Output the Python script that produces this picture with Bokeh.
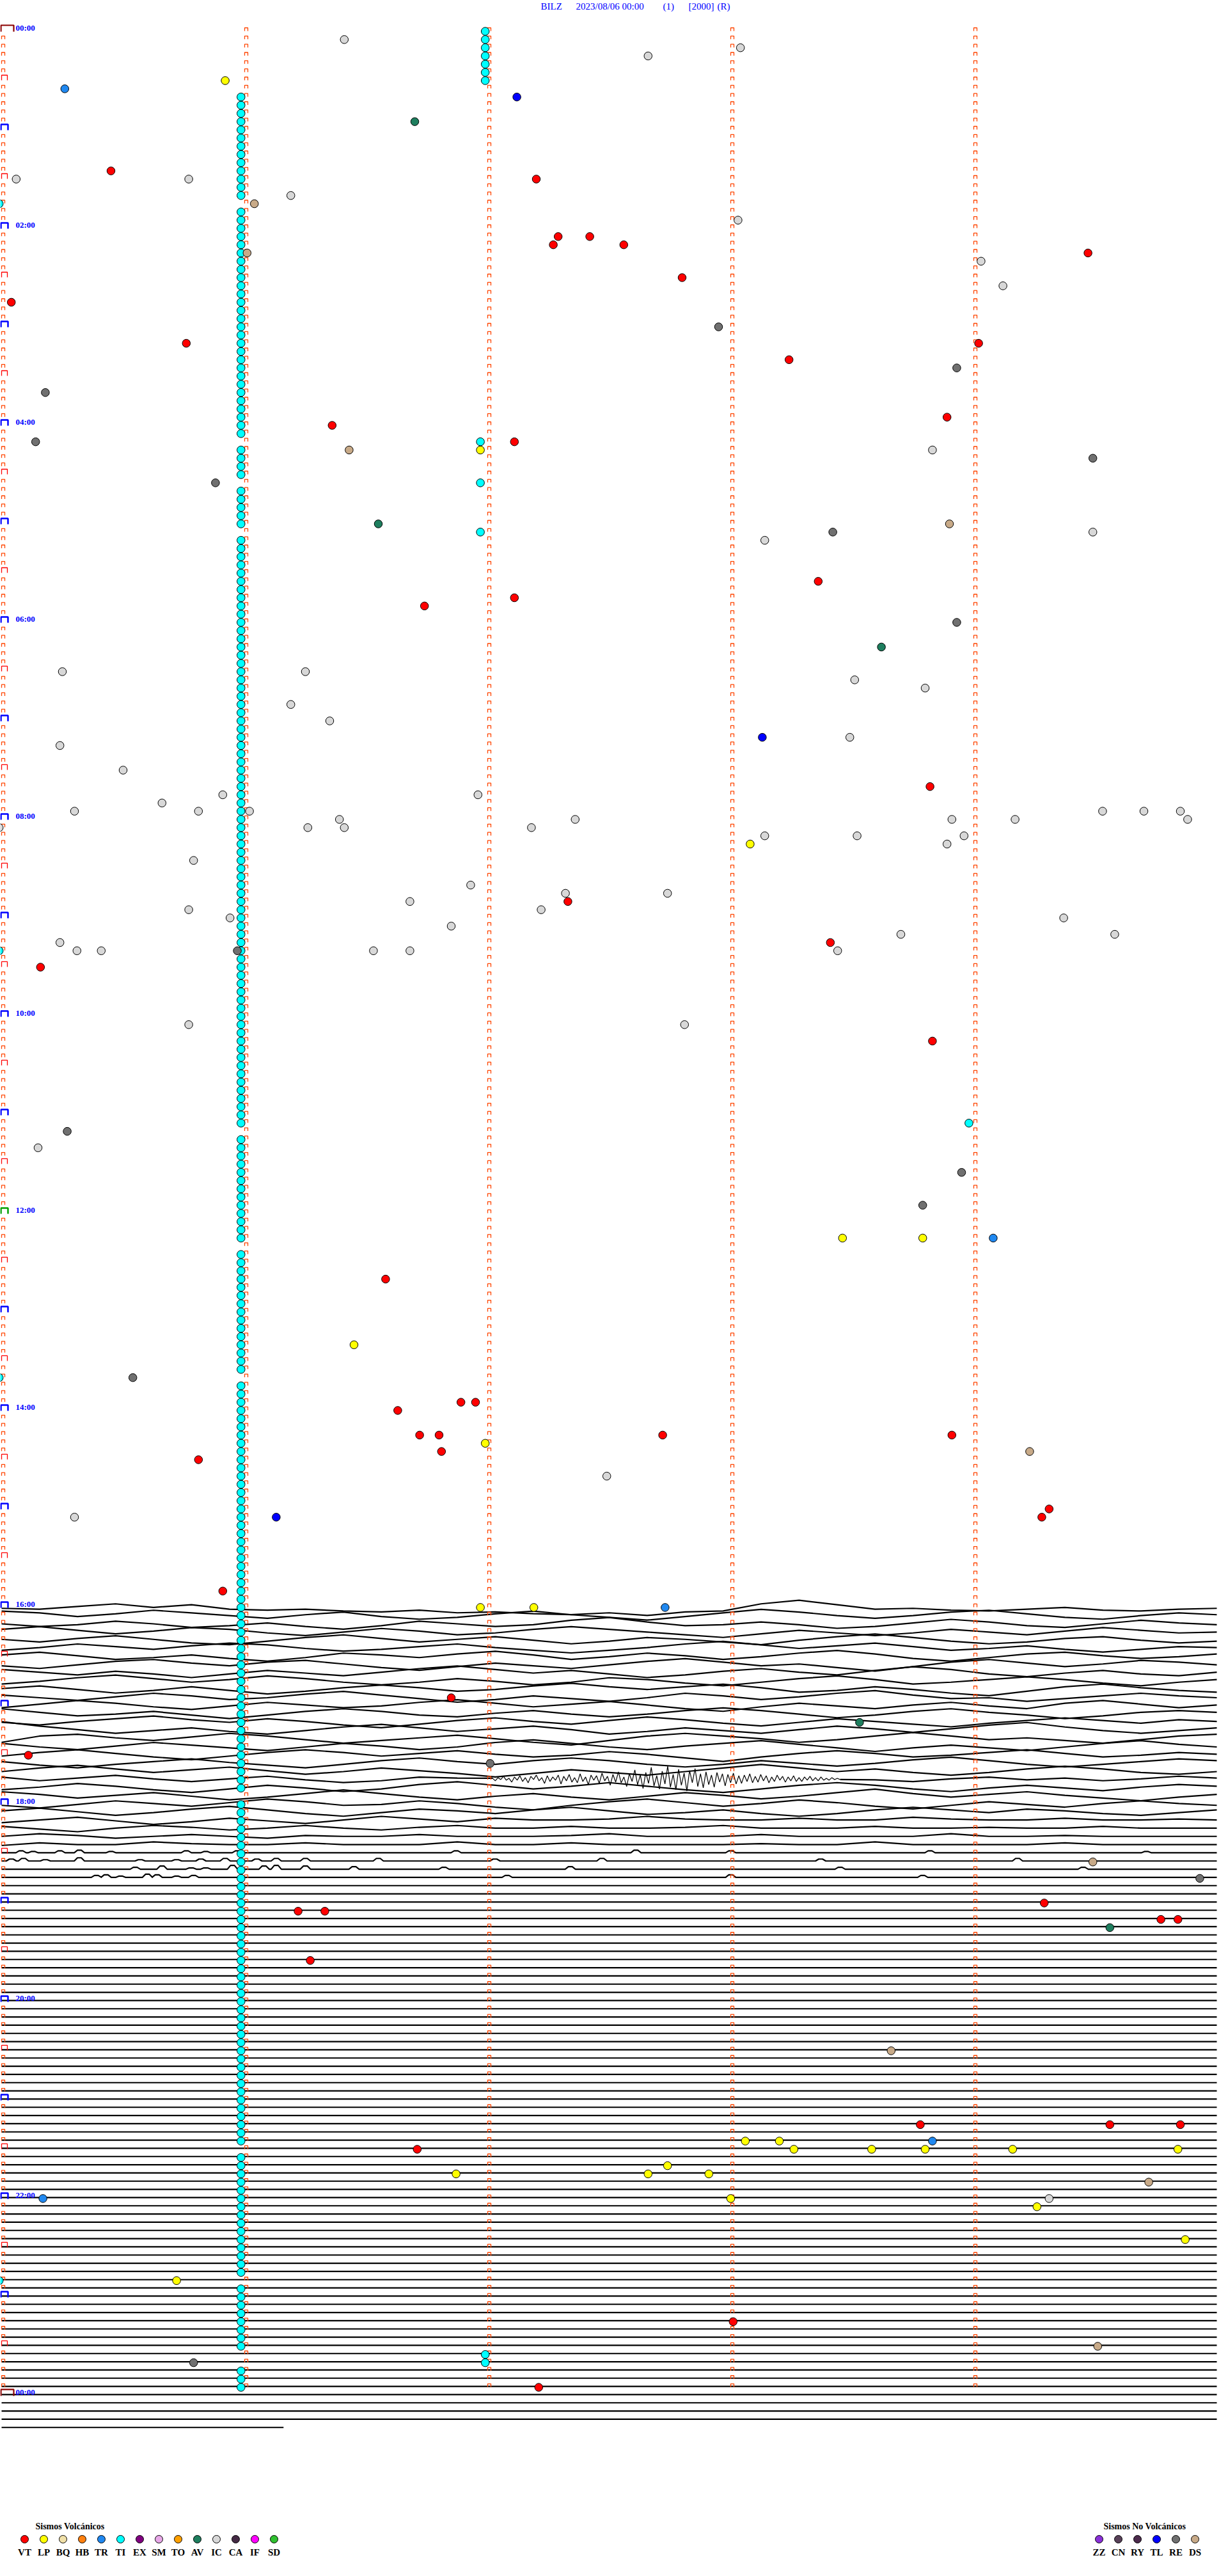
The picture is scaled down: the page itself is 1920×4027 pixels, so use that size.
import numpy as np
from bokeh.plotting import figure
from bokeh.models import Range1d, ColumnDataSource
from bokeh.embed import file_html
from bokeh.resources import INLINE
from bokeh.core.properties import value

# ------------------------------------------------------------------ data
title_parts = ["BILZ", "2023/08/06 00:00", "(1)", "[2000]", "(R)"]

hour_label_text = ["00:00", "02:00", "04:00", "06:00", "08:00", "10:00", "12:00",
                   "14:00", "16:00", "18:00", "20:00", "22:00", "00:00"]
hour_label_line = [0, 24, 48, 72, 96, 120, 144, 168, 192, 216, 240, 264, 288]

n_lines = 288            # 5-minute lines in the day
minutes_per_line = 5

volc_types = ["VT", "LP", "BQ", "HB", "TR", "TI", "EX", "SM", "TO", "AV", "IC", "CA", "IF", "SD"]
nonvolc_types = ["ZZ", "CN", "RY", "TL", "RE", "DS"]
type_colors = {
    "VT": "#ff0000", "LP": "#ffff00", "BQ": "#f0e0a8", "HB": "#ff8010", "TR": "#2088f0",
    "TI": "#00ffff", "EX": "#800080", "SM": "#e8a8e8", "TO": "#ffa000", "AV": "#1e7e5e",
    "IC": "#d8d8d8", "CA": "#442a44", "IF": "#ff00ff", "SD": "#30c030",
    "ZZ": "#8a30d8", "CN": "#584058", "RY": "#4c2a4c", "TL": "#0000ff", "RE": "#707070",
    "DS": "#c8aa88",
}

# TI tremor column (one event per line at ~0.99 min), lines 8..287 with gaps
ti_col_first, ti_col_last = 8, 287
ti_col_missing = [21, 50, 55, 61, 134, 148, 164, 215, 258, 274, 283, 284]
ti_col_minute = 0.985
ti_col2_lines = [0, 1, 2, 3, 4, 5, 6]
ti_col2_minute = 1.99

# events per type: (line = 5-min row, minute within the line)
ev_VT = [(17, 0.45), (18, 2.20), (25, 2.29), (26, 2.27), (25, 2.42), (26, 2.56), (27, 4.47),
         (30, 2.80), (33, 0.04), (38, 0.76), (38, 4.02), (40, 3.24), (47, 3.89), (48, 1.36),
         (50, 2.11), (67, 3.36), (70, 1.74), (69, 2.11), (92, 3.82), (106, 2.33), (111, 3.41),
         (114, 0.16), (123, 3.83), (152, 1.58), (168, 1.63), (167, 1.89), (167, 1.95),
         (171, 1.72), (171, 1.80), (173, 1.81), (171, 2.72), (171, 3.91), (174, 0.81),
         (180, 4.31), (181, 4.28), (190, 0.91), (203, 1.85), (210, 0.11), (229, 1.22),
         (229, 1.33), (228, 4.29), (235, 1.27), (230, 4.77), (230, 4.84), (255, 3.78),
         (255, 4.56), (255, 4.85), (258, 1.71), (279, 3.01), (287, 2.21)]
ev_LP = [(6, 0.92), (51, 1.97), (99, 3.08), (147, 3.46), (147, 3.79), (160, 1.45), (172, 1.99),
         (192, 1.97), (192, 2.19), (257, 3.06), (257, 3.20), (258, 3.26), (258, 3.58),
         (258, 3.80), (258, 4.16), (258, 4.84), (260, 2.74), (261, 2.66), (261, 2.91),
         (261, 1.87), (264, 3.00), (265, 4.26), (269, 4.87), (274, 0.72)]
ev_TR = [(7, 0.26), (147, 4.08), (192, 2.73), (257, 3.83), (264, 0.17)]
ev_TI = [(21, -0.01), (50, 1.97), (55, 1.97), (61, 1.97), (112, -0.01), (133, 3.98),
         (164, -0.01), (274, -0.01), (283, 1.99), (284, 1.99)]
ev_AV = [(11, 1.70), (60, 1.55), (75, 3.62), (206, 3.53), (231, 4.56)]
ev_IC = [(1, 1.41), (3, 2.66), (2, 3.04), (18, 0.06), (18, 0.77), (20, 1.19), (23, 3.03),
         (28, 4.03), (31, 4.12), (51, 3.83), (61, 4.49), (62, 3.14), (78, 0.25), (78, 1.25),
         (79, 3.51), (80, 3.80), (82, 1.19), (84, 1.35), (86, 3.49), (87, 0.24), (90, 0.50),
         (93, 0.91), (93, 1.96), (94, 0.66), (95, 0.30), (95, 0.81), (95, 1.02), (96, 3.91),
         (96, 1.39), (96, 2.36), (96, 4.17), (95, 4.53), (95, 4.70), (95, 4.85), (96, 4.88),
         (97, -0.01), (97, 1.26), (97, 1.41), (97, 2.18), (98, 3.96), (98, 3.14), (98, 3.52),
         (99, 3.89), (101, 0.79), (104, 1.93), (105, 2.32), (105, 2.74), (106, 1.68),
         (107, 2.22), (107, 0.77), (108, 0.94), (109, 1.85), (111, 0.24), (112, 0.31),
         (112, 0.41), (112, 1.53), (112, 1.68), (110, 3.70), (108, 4.37), (110, 4.58),
         (112, 3.44), (121, 0.77), (121, 2.81), (136, 0.15), (176, 2.49), (181, 0.30),
         (264, 4.31)]
ev_RE = [(36, 2.95), (41, 3.93), (44, 0.18), (50, 0.14), (52, 4.49), (55, 0.88), (61, 3.42),
         (72, 3.93), (112, 0.97), (134, 0.27), (139, 3.95), (143, 3.79), (164, 0.54),
         (211, 2.01), (225, 4.93), (284, 0.79)]
ev_DS = [(21, 1.04), (27, 1.01), (51, 1.43), (60, 3.90), (173, 4.23), (223, 4.49), (246, 3.66),
         (262, 4.72), (282, 4.51)]
ev_TL = [(8, 2.12), (86, 3.13), (181, 1.13)]
events_by_type = {"VT": ev_VT, "LP": ev_LP, "TR": ev_TR, "TI": ev_TI, "AV": ev_AV,
                  "IC": ev_IC, "RE": ev_RE, "DS": ev_DS, "TL": ev_TL}

# seismogram traces: samples (px, up positive) at 33 equally spaced times per line
wave_first_line = 192
w192 = [-2, -3, 0, 3, -1, 2, -3, -4, -3, -5, -6, -4, -7, -6, -8, -9, -7, -10, -6, -5, 3, 7, 2, -3, -2, -4, -5, -3, -1, -4, -5, -3, -2]
w193 = [4, 2, -2, 1, 5, 2, -1, -4, 0, 3, -2, -5, -3, 1, 4, 0, -3, -6, -2, 2, 6, 3, -1, -4, -1, 3, 5, 1, -3, -5, -1, 2, 0]
w194 = [-1, -4, -2, 2, -1, -5, -3, 0, -4, -7, -3, 2, -1, -4, -2, 3, 6, 1, -3, -2, 1, -2, -6, -4, 0, 4, 1, -3, -5, -1, 3, 0, -2]
w195 = [2, 5, 1, -3, 0, 4, 2, -2, -5, -1, 3, 0, -4, -2, 2, 5, 2, -1, -4, -7, -3, 1, -2, -5, -2, 2, -1, -4, 0, 4, 1, -2, -1]
w196 = [0, -3, 1, 4, 0, -4, -6, -2, 2, 5, 1, -3, 0, 3, -1, -5, -2, 2, 0, -3, -6, -1, 3, 6, 2, -2, -5, -3, 1, 3, -1, -4, -2]
w197 = [-3, 0, 4, 1, -2, 2, 5, 3, -1, -4, -2, 1, 4, 0, -3, -6, -3, 0, 4, 7, 3, -1, 2, 5, 1, -3, -1, 2, -2, -5, -2, 1, 0]
w198 = [1, 4, 0, -4, -2, 1, -3, -6, -2, 3, 1, -2, 2, 5, 1, -4, -1, 3, 0, -4, -1, 3, 6, 2, -3, -6, -2, 2, 4, 0, -3, -1, 2]
w199 = [-2, -5, -1, 3, 5, 1, -2, 2, 4, 0, -4, -7, -3, 1, -2, -5, -1, 3, 6, 2, -2, 0, -4, -8, -3, 2, 5, 1, -3, 0, 4, 2, -1]
w200 = [3, 0, -3, 1, -2, -6, -2, 2, -1, -4, 0, 4, 7, 3, -1, 2, -2, -6, -3, 1, 4, 0, -3, 2, 6, 3, -2, -5, -1, 2, -2, -4, 0]
w201 = [-4, -1, 3, 6, 2, -2, 1, 5, 2, -2, -5, -2, 2, -1, -5, -2, 3, 1, -3, -6, -2, 2, 5, 1, -4, -2, 1, 4, 1, -3, -6, -2, 1]
w202 = [0, 3, -1, -5, -2, 2, -2, -6, -3, 1, 4, 1, -3, -1, 3, 6, 2, -1, 2, 5, 1, -4, -2, 2, -1, -5, -8, -3, 2, 5, 1, -2, -4]
w203 = [2, -1, -4, 0, 4, 1, -3, -1, 3, 6, 2, -2, -6, -3, 1, -2, -5, -1, 4, 1, -3, 0, 4, 7, 2, -2, -1, -5, -2, 1, 4, 1, -1]
w204 = [-3, 1, 5, 2, -2, -5, -1, 3, 0, -3, -1, 3, 6, 2, -2, 1, 4, 0, -4, -7, -2, 2, -1, -4, 0, 3, -1, -4, 2, 5, 1, -3, 0]
w205 = [5, 1, -3, -1, 2, -2, -6, -2, 2, 5, 2, -2, -4, 0, 3, -1, -4, -1, 3, 6, 3, -1, -5, -2, 2, 5, 1, -2, -6, -3, 1, 3, 1]
w206 = [-1, -4, 0, 3, 6, 2, -1, 3, 0, -4, -7, -3, 1, 4, 0, -3, 1, 5, 2, -2, -5, -1, 3, 0, -3, -6, -2, 1, 4, 1, -2, 2, 0]
w207 = [9, 4, 0, -4, -1, 2, -2, -5, -1, 3, 6, 2, -2, 1, 4, 0, -5, -2, 2, -1, -4, 0, 4, 1, -3, 1, 5, 8, 3, -1, -4, -1, 2]
w208 = [-5, 2, 4, 0, -3, 1, 5, 2, -2, -6, -3, 0, 3, -1, -5, -8, -3, 2, 5, 2, -1, -5, -2, 2, 6, 2, -2, 0, -3, -6, -2, 2, 4]
w209 = [3, -1, -4, 0, 4, 1, -2, -5, -1, 3, 0, -4, -1, 4, 7, 3, -1, -4, 0, 3, 6, 2, -2, -6, -2, 1, -2, -5, -1, 3, 6, 2, -1]
w210 = [-2, 2, 5, 1, -3, -6, -2, 2, 5, 2, -2, 1, 4, 0, -3, -1, 3, 0, -4, -8, -3, 1, 4, 1, -3, -1, 2, 5, 1, -3, -1, 2, 0]
w211 = [1, -3, -6, -2, 1, 4, 0, -3, -6, -2, 2, 5, 1, -2, 2, 5, 2, -2, -5, -2, 2, -1, -4, -1, 3, 6, 2, -2, -5, -2, 1, 4, 2]
w212 = [-1, 3, 6, 2, -2, 1, 4, 0, -4, -1, 3, 0, -3, -7, -3, 1, -2, -5, -1, 3, 7, 3, -1, 2, -2, -5, -2, 2, 5, 2, -2, -4, -1]
w213 = [2, -2, 1, 4, 0, -3, 0, 3, -1, -4, -2, 2, 1, -3, 1, 2, -2, -1, 3, 0, -2, -1, 2, -1, -3, 0, 2, -1, 1, -2, 0, 3, 1]
w214 = [-3, 0, 4, 1, -3, -6, -2, 2, -1, -5, -2, 3, 6, 2, -2, 1, 5, 1, -3, -6, -2, 2, 5, 2, -2, -5, -1, 2, -1, -4, 0, 3, 1]
w215 = [4, 1, -3, 0, 3, -1, -5, -2, 2, 6, 2, -2, -5, -1, 2, -2, -5, -1, 3, 0, -4, -1, 3, 7, 2, -2, 1, 4, 0, -3, -6, -2, 1]
w216 = [-2, -5, -1, 3, 0, -3, 1, 5, 2, -2, -1, 3, 0, -4, -7, -2, 2, 5, 1, -3, 0, 4, 1, -3, -6, -2, 2, -1, -4, 0, 3, 0, -2]
w217 = [1, 4, 0, -4, -1, 3, 6, 2, -2, -5, -1, 3, 1, -2, 2, 5, 1, -3, -1, 2, -2, -5, -2, 2, 5, 2, -1, 3, 1, -2, -4, -1, 2]
w218 = [-3, 0, 3, -1, -5, -2, 2, -1, -4, 0, 4, 1, -2, 2, 0, 0, 1, 4, 1, 0, 0, 2, 0, 0, 3, 1, 0, 0, 2, 0, 0, 1, 0]
w219 = [2, -1, -4, 0, 3, 1, -2, 0, 3, 0, -2, 1, 3, 0, 0, 2, 0, 0, 1, 3, 0, 0, 0, 2, 0, 0, 1, 0, 0, 2, 0, 0, 0]
w220 = [0, 3, 1, -2, 0, 2, 0, -2, 1, 0, 0, 2, 0, 0, 0, 1, 3, 0, 0, 0, 2, 0, 0, 0, 0, 3, 0, 0, 1, 0, 0, 0, 0]
w221 = [-1, 2, 0, 0, 3, 1, 0, 0, 2, 0, 0, 0, 3, 0, 0, 2, 0, 0, 0, 0, 1, 0, 0, 3, 0, 0, 0, 0, 2, 0, 0, 0, 0]
wave_rows = [w192, w193, w194, w195, w196, w197, w198, w199, w200, w201, w202, w203, w204, w205,
             w206, w207, w208, w209, w210, w211, w212, w213, w214, w215, w216, w217, w218, w219,
             w220, w221]

# burst on line 213 (17:45) between 2.02 and 3.45 min, px up positive
burst_line = 213
burst_start_min, burst_end_min = 2.02, 3.45
burst_213 = [1, -3, 2, -1, 4, -2, 1, -5, 3, -2, 5, -4, 2, -6, 4, -1, 6, -3, 2, -7, 5, -4, 3, -2,
             6, -8, 4, -3, 7, -5, 2, -6, 8, -4, 3, -9, 6, -2, 5, -7, 9, -3, 4, -10, 7, -5, 11,
             -6, 3, -12, 8, -4, 14, -9, 6, -15, 10, -7, 18, -11, 5, -16, 12, -8, 20, -13, 7,
             -17, 15, -10, 9, -19, 13, -6, 16, -12, 8, -14, 11, -9, 6, -13, 10, -5, 8, -11, 7,
             -6, 9, -8, 5, -7, 6, -4, 8, -6, 4, -5, 7, -3, 5, -6, 3, -4, 6, -2, 4, -5, 3, -3,
             5, -4, 2, -4, 3, -2, 4, -3, 2, -3, 3, -2, 1, -2, 2, -1, 1, -1]

# nearly quiet lines: small bumps (minute, px height)
bump_lines = [222, 223, 224, 225]
bumps_222 = [(0.08, 3), (0.13, 2), (0.24, 3), (0.32, 4), (0.45, 2), (0.76, 3), (0.84, 2), (0.97, 3),
             (1.87, 3), (2.61, 4), (3.00, 3), (3.82, 3), (4.71, 2)]
bumps_223 = [(0.04, 3), (0.09, 4), (0.18, 2), (0.32, 5), (0.57, 2), (0.72, 2), (0.82, 3), (0.92, 4),
             (1.05, 3), (1.13, 4), (1.25, 4), (1.55, 4), (2.03, 3), (2.47, 4), (3.37, 3), (4.18, 4)]
bumps_224 = [(0.55, 3), (0.66, 5), (0.78, 2), (0.84, 2), (0.95, 6), (1.08, 5), (1.13, 6), (1.25, 5),
             (1.45, 4), (1.82, 3), (2.34, 4), (3.45, 3), (4.45, 3)]
bumps_225 = [(0.39, 3), (0.43, 4), (0.49, 2), (0.60, 5), (0.64, 4), (0.72, 2), (0.79, 3), (2.08, 3),
             (3.00, 4), (3.79, 3)]
bump_rows = [bumps_222, bumps_223, bumps_224, bumps_225]

flat_first_line, flat_last_line = 226, 291
last_partial_line, last_partial_end_min = 292, 1.16

# ------------------------------------------------------------------ layout
PX_MIN = 380.0      # px per minute
PX_LINE = 12.833    # px per 5-min line
X0_PAGE, Y0_PAGE = 10.0, 55.0
MARGIN = 8
W, H = 1904, 4011
TRACE_GAIN = 1.4    # display gain of the seismogram samples


def pmin(xp):
    return (xp - X0_PAGE) / PX_MIN


def pline(yp):
    return (yp - Y0_PAGE) / PX_LINE


def dx(px):
    return px / PX_MIN


def dy(px):
    return px / PX_LINE


p = figure(width=W, height=H, output_backend="svg", toolbar_location=None,
           x_range=Range1d(pmin(MARGIN), pmin(MARGIN + W)),
           y_range=Range1d(pline(MARGIN + H), pline(MARGIN)),
           x_axis_location=None, y_axis_location=None, min_border=0)
p.outline_line_color = None
p.grid.grid_line_color = None
p.background_fill_color = "white"
p.border_fill_color = "white"

# ---- traces
sample_min = np.linspace(0, minutes_per_line, 33)
tr_xs, tr_ys = [], []
burst_xs, burst_ys = [], []
for i, vals in enumerate(wave_rows):
    line = wave_first_line + i
    xs = list(sample_min)
    ys = [line - dy(TRACE_GAIN * v) for v in vals]
    if line == burst_line:
        keep = [(x, y) for x, y in zip(xs, ys) if x < burst_start_min or x > burst_end_min]
        left = [pt for pt in keep if pt[0] < burst_start_min]
        right = [pt for pt in keep if pt[0] > burst_end_min]
        bx = np.linspace(burst_start_min, burst_end_min, len(burst_213))
        mid = [(x, line - dy(v)) for x, v in zip(bx, burst_213)]
        tr_xs.append([a for a, b in left] + [mid[0][0]])
        tr_ys.append([b for a, b in left] + [mid[0][1]])
        tr_xs.append([mid[-1][0]] + [a for a, b in right])
        tr_ys.append([mid[-1][1]] + [b for a, b in right])
        burst_xs = [a for a, b in mid]
        burst_ys = [b for a, b in mid]
        continue
    tr_xs.append(xs)
    tr_ys.append(ys)
for line, bumps in zip(bump_lines, bump_rows):
    xs, ys = [0.0], [float(line)]
    for m, h in bumps:
        xs += [m - dx(8), m - dx(3), m + dx(3), m + dx(8)]
        ys += [line, line - dy(h), line - dy(h), line]
    xs.append(float(minutes_per_line))
    ys.append(float(line))
    tr_xs.append(xs)
    tr_ys.append(ys)
for line in range(flat_first_line, flat_last_line + 1):
    tr_xs.append([0.0, float(minutes_per_line)])
    tr_ys.append([line, line])
tr_xs.append([0.0, last_partial_end_min])
tr_ys.append([last_partial_line, last_partial_line])
p.multi_line(tr_xs, tr_ys, line_color="black", line_width=2.2)
p.line(burst_xs, burst_ys, line_color="black", line_width=1.2)

# ---- minute markers
sm_xs, sm_ys = [], []
red_xs, red_ys = [], []
blue_xs, blue_ys = [], []
grn_xs, grn_ys = [], []
for r in range(n_lines):
    for m in range(minutes_per_line):
        if m == 0 and r % 6 == 0:
            continue
        sm_xs.append([m, m, m + dx(5), m + dx(5)])
        sm_ys.append([r + dy(1), r - dy(4), r - dy(4), r + dy(1)])
    if r % 6 == 0 and r % 12 != 0:
        red_xs.append([0, 0, dx(9), dx(9)])
        red_ys.append([r + dy(1), r - dy(7), r - dy(7), r + dy(1)])
    elif r % 12 == 0 and r != 0:
        tx, ty = (grn_xs, grn_ys) if r == 144 else (blue_xs, blue_ys)
        tx.append([dx(-1), dx(-1), dx(10), dx(10)])
        ty.append([r + dy(2), r - dy(7), r - dy(7), r + dy(2)])
p.multi_line(sm_xs, sm_ys, line_color="#ff4500", line_width=1.3)
p.multi_line(red_xs, red_ys, line_color="#ff0000", line_width=1.3)
p.multi_line(blue_xs, blue_ys, line_color="#0000ff", line_width=2.5)
p.multi_line(grn_xs, grn_ys, line_color="#00a000", line_width=2.5)
for r in (0, n_lines):
    p.multi_line([[dx(-1), dx(-1), dx(19), dx(19)]],
                 [[r + dy(2), r - dy(8), r - dy(8), r + dy(2)]],
                 line_color="#8b0000", line_width=2.2)

# ---- hour labels
p.text(x=[pmin(32)] * len(hour_label_line), y=[l - dy(4) for l in hour_label_line],
       text=hour_label_text, text_font=value("Liberation Serif"), text_font_style="bold",
       text_font_size="13px", text_color="#0000ff", text_baseline="middle", text_align="left")

# ---- title
title_x = [853, 908, 1044, 1084, 1129]
p.text(x=[pmin(v) for v in title_x], y=[pline(17)] * len(title_parts), text=title_parts,
       text_font=value("Liberation Serif"), text_font_size="15px", text_color="#0000ff",
       text_baseline="middle", text_align="left")

# ---- events
DOT_DY = dy(1.5)
ti_lines = [l for l in range(ti_col_first, ti_col_last + 1) if l not in ti_col_missing]
all_x = [ti_col_minute] * len(ti_lines) + [ti_col2_minute] * len(ti_col2_lines)
all_y = [l + DOT_DY for l in ti_lines] + [l + DOT_DY for l in ti_col2_lines]
all_t = ["TI"] * (len(ti_lines) + len(ti_col2_lines))
for t, evs in events_by_type.items():
    for line, m in evs:
        all_x.append(m)
        all_y.append(line + DOT_DY)
        all_t.append(t)
src = ColumnDataSource(dict(x=all_x, y=all_y, c=[type_colors[t] for t in all_t]))
p.scatter("x", "y", source=src, size=12.5, fill_color="c", line_color="black", line_width=1)

# ---- legends
leg_title_y = pline(3957)
leg_dot_y = pline(3977)
leg_lab_y = pline(3997)
vx = [pmin(46 + 30 * i) for i in range(len(volc_types))]
nx = [pmin(1726 + 30 * i) for i in range(len(nonvolc_types))]
p.text(x=[pmin(63), pmin(1733)], y=[leg_title_y] * 2,
       text=["Sismos Volcánicos", "Sismos No Volcánicos"],
       text_font=value("Liberation Serif"), text_font_style="bold", text_font_size="14px",
       text_color="black", text_baseline="middle", text_align="left")
p.scatter(vx + nx, [leg_dot_y] * (len(vx) + len(nx)), size=12,
          fill_color=[type_colors[t] for t in volc_types + nonvolc_types],
          line_color="black", line_width=1)
p.text(x=vx + nx, y=[leg_lab_y] * (len(vx) + len(nx)), text=volc_types + nonvolc_types,
       text_font=value("Liberation Serif"), text_font_style="bold", text_font_size="15px",
       text_color="black", text_baseline="middle", text_align="center")

open("out.html", "w").write(file_html(p, INLINE))
